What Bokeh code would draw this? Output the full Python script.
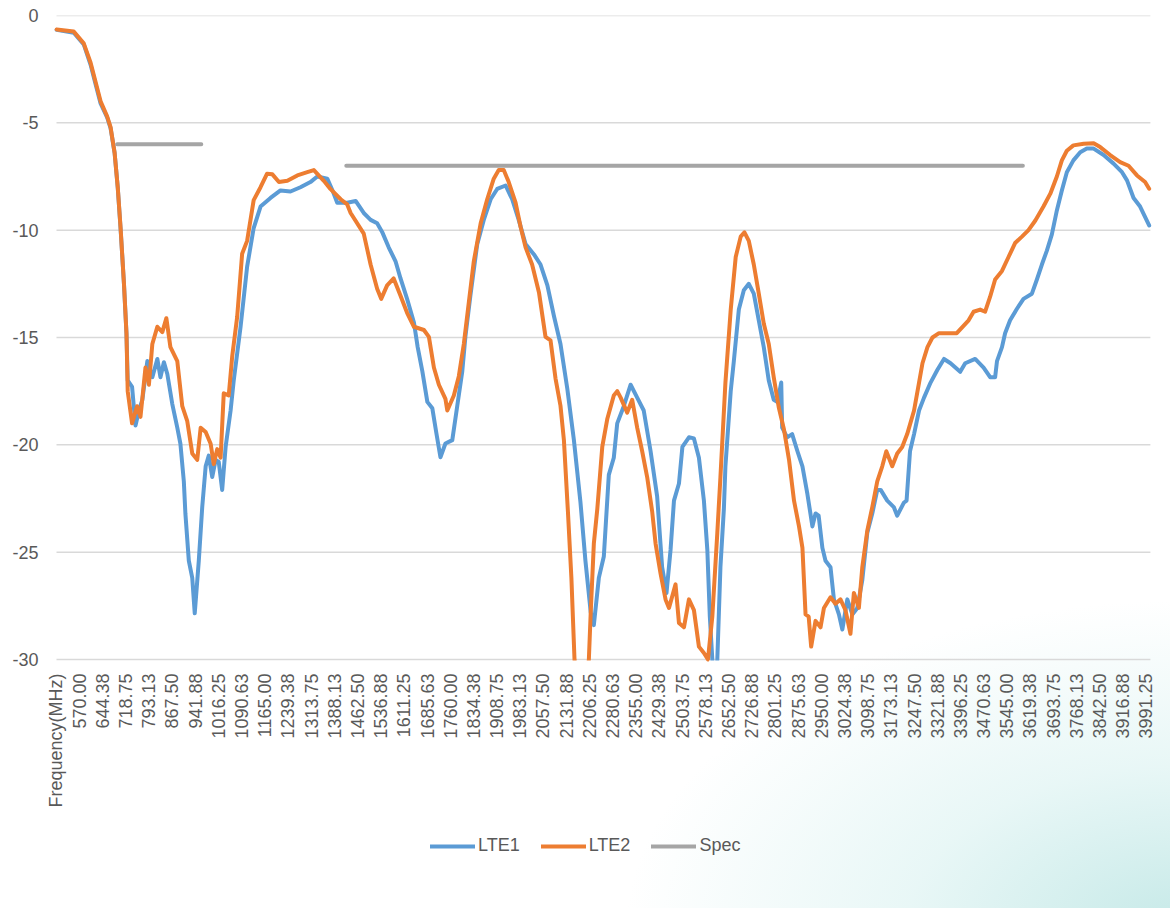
import math
from bokeh.plotting import figure
from bokeh.models import Range1d, FixedTicker, Legend, LegendItem, BoxAnnotation
from bokeh.embed import file_html
from bokeh.resources import INLINE

# ---------------- data ----------------
x_labels = ["570.00", "644.38", "718.75", "793.13", "867.50", "941.88", "1016.25", "1090.63",
            "1165.00", "1239.38", "1313.75", "1388.13", "1462.50", "1536.88", "1611.25",
            "1685.63", "1760.00", "1834.38", "1908.75", "1983.13", "2057.50", "2131.88",
            "2206.25", "2280.63", "2355.00", "2429.38", "2503.75", "2578.13", "2652.50",
            "2726.88", "2801.25", "2875.63", "2950.00", "3024.38", "3098.75", "3173.13",
            "3247.50", "3321.88", "3396.25", "3470.63", "3545.00", "3619.38", "3693.75",
            "3768.13", "3842.50", "3916.88", "3991.25"]
first_label = "Frequency(MHz)"
label_step = 74.375
y_ticks = [0, -5, -10, -15, -20, -25, -30]

lte1_freq = [496, 551, 583, 605, 621, 637, 658, 669, 682, 692, 701, 712, 720, 724, 738, 749, 760, 771,
             787, 803, 819, 829, 840, 851, 867, 883, 893, 904, 909, 920, 931, 939, 952, 963, 974, 984,
             995, 1006, 1016, 1027, 1038, 1054, 1064, 1086, 1107, 1128, 1150, 1182, 1214, 1246, 1278,
             1310, 1332, 1364, 1385, 1396, 1428, 1455, 1481, 1503, 1524, 1540, 1561, 1583, 1599, 1620,
             1642, 1654, 1669, 1685, 1701, 1714, 1727, 1743, 1765, 1781, 1797, 1807, 1823, 1845, 1866,
             1888, 1909, 1936, 1957, 1978, 2000, 2027, 2048, 2070, 2091, 2112, 2134, 2155, 2176, 2192,
             2209, 2219, 2235, 2251, 2267, 2283, 2294, 2315, 2337, 2358, 2379, 2401, 2422, 2438, 2452,
             2465, 2476, 2492, 2503, 2524, 2540, 2556, 2572, 2583, 2591, 2599, 2606, 2615, 2625, 2636,
             2641, 2658, 2668, 2684, 2700, 2716, 2732, 2748, 2764, 2780, 2796, 2808, 2820, 2823, 2839,
             2855, 2872, 2888, 2904, 2920, 2930, 2940, 2952, 2962, 2978, 2989, 3005, 3016, 3032, 3048,
             3064, 3080, 3096, 3112, 3128, 3139, 3160, 3181, 3192, 3213, 3222, 3233, 3246, 3262, 3278,
             3299, 3321, 3342, 3363, 3394, 3410, 3442, 3469, 3490, 3506, 3512, 3528, 3538, 3554, 3576,
             3597, 3624, 3640, 3656, 3672, 3688, 3704, 3720, 3736, 3757, 3779, 3800, 3822, 3854, 3886,
             3913, 3929, 3950, 3971, 4000]
lte1_db = [-0.67, -0.8, -1.35, -2.3, -3.2, -4.1, -4.75, -5.25, -6.4, -8.0, -9.9, -12.5, -14.8, -17.0,
           -17.3, -19.1, -18.4, -17.9, -16.1, -16.85, -16.0, -16.85, -16.15, -16.7, -18.1, -19.2, -19.95,
           -21.7, -23.2, -25.4, -26.2, -27.85, -25.4, -22.9, -21.0, -20.5, -21.5, -20.7, -20.8, -22.1,
           -20.1, -18.4, -17.0, -14.5, -11.7, -9.9, -8.9, -8.5, -8.15, -8.2, -8.0, -7.76, -7.5, -7.6,
           -8.3, -8.72, -8.72, -8.64, -9.2, -9.52, -9.68, -10.08, -10.8, -11.45, -12.25, -13.2, -14.3,
           -15.45, -16.58, -18.0, -18.3, -19.46, -20.58, -19.94, -19.78, -18.18, -16.58, -14.97, -13.05,
           -10.65, -9.52, -8.56, -8.08, -7.92, -8.56, -9.52, -10.65, -11.13, -11.6, -12.57, -14.0, -15.3,
           -17.4, -19.78, -22.66, -25.4, -27.8, -28.4, -26.2, -25.2, -21.4, -20.6, -19.0, -18.2, -17.2,
           -17.8, -18.4, -20.3, -22.4, -25.7, -26.9, -24.9, -22.6, -21.8, -20.1, -19.65, -19.7, -20.6,
           -22.6, -24.9, -28.0, -30.0, -33.0, -30.0, -25.7, -23.0, -21.0, -17.5, -16.1, -13.7, -12.8,
           -12.5, -12.96, -14.2, -15.45, -17.0, -17.9, -18.0, -17.1, -19.2, -19.65, -19.5, -20.3, -21.0,
           -22.3, -23.8, -23.2, -23.3, -24.8, -25.4, -25.7, -27.2, -27.9, -28.6, -27.2, -27.9, -27.6,
           -26.3, -24.1, -23.2, -22.1, -22.1, -22.6, -22.9, -23.3, -22.7, -22.6, -20.3, -19.5, -18.4,
           -17.8, -17.1, -16.5, -16.0, -16.2, -16.6, -16.2, -16.0, -16.4, -16.85, -16.85, -16.1, -15.45,
           -14.8, -14.2, -13.66, -13.2, -12.96, -12.3, -11.6, -10.95, -10.2, -9.08, -8.15, -7.3, -6.75,
           -6.37, -6.2, -6.2, -6.5, -6.9, -7.3, -7.68, -8.5, -8.9, -9.78]

lte2_freq = [496, 551, 583, 605, 621, 637, 658, 669, 682, 692, 701, 712, 720, 724, 738, 754, 765, 781,
             792, 803, 819, 835, 848, 861, 883, 899, 915, 931, 947, 958, 974, 990, 1000, 1011, 1022, 1032,
             1048, 1059, 1075, 1091, 1107, 1128, 1150, 1171, 1188, 1209, 1236, 1268, 1300, 1321, 1353,
             1374, 1407, 1428, 1439, 1481, 1503, 1524, 1537, 1556, 1577, 1599, 1620, 1642, 1674, 1690,
             1706, 1722, 1743, 1749, 1770, 1786, 1802, 1818, 1834, 1856, 1877, 1898, 1914, 1930, 1946,
             1968, 1984, 2000, 2021, 2043, 2064, 2080, 2096, 2112, 2123, 2136, 2147, 2157, 2176, 2203,
             2209, 2219, 2230, 2246, 2262, 2283, 2294, 2305, 2326, 2342, 2358, 2374, 2390, 2406, 2417,
             2433, 2449, 2460, 2481, 2492, 2508, 2524, 2540, 2556, 2572, 2585, 2599, 2615, 2625, 2641,
             2658, 2674, 2690, 2702, 2716, 2732, 2748, 2764, 2780, 2796, 2812, 2829, 2845, 2861, 2877,
             2888, 2898, 2908, 2916, 2930, 2946, 2957, 2978, 2994, 3010, 3026, 3042, 3053, 3069, 3080,
             3096, 3112, 3128, 3144, 3157, 3176, 3192, 3208, 3224, 3246, 3262, 3273, 3289, 3305, 3326,
             3353, 3383, 3421, 3437, 3458, 3474, 3490, 3506, 3528, 3549, 3570, 3592, 3613, 3635, 3661,
             3683, 3704, 3720, 3736, 3757, 3790, 3822, 3843, 3875, 3907, 3934, 3961, 3987, 4000]
lte2_db = [-0.65, -0.75, -1.3, -2.2, -3.1, -4.0, -4.7, -5.2, -6.4, -8.0, -9.86, -12.5, -14.8, -17.5,
           -19.0, -18.2, -18.7, -16.4, -17.2, -15.3, -14.5, -14.75, -14.1, -15.45, -16.1, -18.2, -18.9,
           -20.4, -20.7, -19.2, -19.4, -19.95, -20.9, -20.2, -20.6, -17.6, -17.7, -15.9, -14.05, -11.1,
           -10.5, -8.6, -8.0, -7.37, -7.4, -7.76, -7.7, -7.45, -7.3, -7.2, -7.7, -8.08, -8.56, -8.8,
           -9.2, -10.16, -11.6, -12.73, -13.2, -12.57, -12.25, -13.05, -13.85, -14.5, -14.65, -14.97,
           -16.4, -17.2, -17.86, -18.4, -17.7, -16.8, -15.3, -13.37, -11.45, -9.68, -8.56, -7.6, -7.2,
           -7.2, -7.76, -8.72, -9.84, -10.8, -11.6, -12.9, -14.97, -15.13, -16.9, -18.18, -19.78, -23.15,
           -26.2, -30.0, -34.0, -30.0, -27.8, -24.6, -23.0, -20.1, -18.8, -17.7, -17.5, -17.8, -18.5,
           -17.9, -19.2, -20.3, -21.5, -23.1, -24.6, -26.0, -27.2, -27.6, -26.5, -28.3, -28.5, -27.2,
           -27.7, -29.4, -29.7, -30.0, -28.0, -24.1, -21.5, -17.1, -13.7, -11.25, -10.3, -10.1, -10.5,
           -11.6, -12.96, -14.35, -15.3, -16.85, -18.25, -19.3, -20.7, -22.6, -23.8, -24.8, -27.9, -28.0,
           -29.4, -28.2, -28.5, -27.6, -27.1, -27.4, -27.2, -27.7, -28.8, -26.9, -27.6, -25.7, -24.0,
           -22.9, -21.7, -21.0, -20.3, -21.0, -20.4, -20.1, -19.5, -18.4, -17.1, -16.2, -15.45, -15.0,
           -14.8, -14.8, -14.8, -14.2, -13.8, -13.7, -13.8, -13.1, -12.3, -11.9, -11.25, -10.6, -10.3,
           -10.0, -9.55, -8.9, -8.3, -7.5, -6.75, -6.3, -6.05, -5.97, -5.95, -6.13, -6.5, -6.83, -7.0,
           -7.45, -7.76, -8.07]

spec_freq = [690, 960, float("nan"), 1425, 3595]
spec_db = [-6, -6, float("nan"), -7, -7]

# ---------------- chart ----------------
FONT = "Liberation Sans"
TXT = "#595959"
GRID = "#d9d9d9"
Y_MIN = -30
Y_PAD = -41.6          # room under the value axis for rotated labels and legend
X_START, X_END = 444.3, 4036.4   # view range (MHz), a little wider than the plot area
PLOT_X1 = 4004.0       # right end of the plot area (MHz)

first_x = float(x_labels[0]) - label_step
x_ticks = [first_x + label_step * i for i in range(len(x_labels) + 1)]
x_overrides = {t: lab for t, lab in zip(x_ticks, [first_label] + x_labels)}

p = figure(width=1170, height=908, output_backend="svg", toolbar_location=None,
           x_range=Range1d(X_START, X_END), y_range=Range1d(Y_PAD, 0),
           min_border_left=40, min_border_right=10, min_border_top=15, min_border_bottom=0)
p.outline_line_color = None
p.background_fill_color = None
p.border_fill_color = None
p.styles = {"background-image":
            "radial-gradient(ellipse 560px 330px at 1185px 930px, rgba(150,215,212,0.55) 0%, "
            "rgba(190,232,230,0.35) 50%, rgba(255,255,255,0) 100%)"}

# horizontal gridlines spanning only the plot area
n = len(y_ticks)
p.segment(x0=[first_x] * n, x1=[PLOT_X1] * n, y0=y_ticks, y1=y_ticks,
          line_color=GRID, line_width=1.5, level="underlay")
p.xgrid.grid_line_color = None
p.ygrid.grid_line_color = None

p.xaxis.fixed_location = Y_MIN
p.xaxis.ticker = FixedTicker(ticks=x_ticks)
p.xaxis.major_label_overrides = x_overrides
p.xaxis.major_label_orientation = math.pi / 2
p.xaxis.major_label_standoff = 8
p.xaxis.axis_line_color = None
p.xaxis.major_tick_line_color = None
p.xaxis.minor_tick_line_color = None
p.xaxis.major_label_text_font = FONT
p.xaxis.major_label_text_font_size = "18px"
p.xaxis.major_label_text_color = TXT

p.yaxis.ticker = FixedTicker(ticks=y_ticks)
p.yaxis.major_label_overrides = {t: str(t) for t in y_ticks}
p.yaxis.major_label_standoff = 2
p.yaxis.major_tick_out = 0
p.yaxis.major_tick_in = 0
p.yaxis.axis_line_color = None
p.yaxis.major_tick_line_color = None
p.yaxis.minor_tick_line_color = None
p.yaxis.major_label_text_font = FONT
p.yaxis.major_label_text_font_size = "18px"
p.yaxis.major_label_text_color = TXT

r1 = p.line(lte1_freq, lte1_db, line_color="#5b9bd5", line_width=4, line_join="round", line_cap="round")
r2 = p.line(lte2_freq, lte2_db, line_color="#ed7d31", line_width=4, line_join="round", line_cap="round")
r3 = p.line(spec_freq, spec_db, line_color="#a5a5a5", line_width=4, line_cap="round")

# the plot area ends at -30: hide the parts of the traces that dip below it
for fr, db in ((lte1_freq, lte1_db), (lte2_freq, lte2_db)):
    below = [i for i, v in enumerate(db) if v < Y_MIN]
    if below:
        lo, hi = fr[max(below[0] - 1, 0)], fr[min(below[-1] + 1, len(fr) - 1)]
        p.add_layout(BoxAnnotation(left=lo - 10, right=hi + 10, top=Y_MIN - 0.05, bottom=min(db) - 1.5,
                                   fill_color="white", fill_alpha=1.0, line_color=None, level="glyph"))

legend = Legend(items=[LegendItem(label="LTE1", renderers=[r1]),
                       LegendItem(label="LTE2", renderers=[r2]),
                       LegendItem(label="Spec", renderers=[r3])],
                orientation="horizontal", location=(390, 52),
                glyph_width=45, glyph_height=20, label_standoff=3, spacing=21,
                padding=5, margin=0,
                border_line_color=None, background_fill_alpha=0,
                label_text_font=FONT, label_text_font_size="18px", label_text_color=TXT)
p.add_layout(legend, "center")

open("out.html", "w").write(file_html(p, INLINE))
